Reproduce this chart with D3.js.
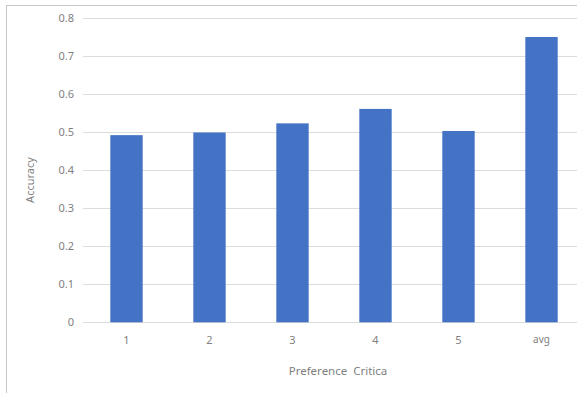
<!DOCTYPE html>
<html>
<head>
<meta charset="utf-8">
<script src="https://cdn.jsdelivr.net/npm/d3@7/dist/d3.min.js"></script>
<style>
  html, body { margin: 0; padding: 0; background: #fff; }
  svg { display: block; }
  text { font-family: "Noto Sans", "DejaVu Sans", sans-serif; fill: #7f7f7f; }
</style>
</head>
<body>
<svg id="chart" width="577" height="393"></svg>
<script>
// Accuracy per preference criterion
const categories = ["1", "2", "3", "4", "5", "avg"];
const accuracy = [0.492, 0.499, 0.523, 0.561, 0.503, 0.750];
const yTicks = [0, 0.1, 0.2, 0.3, 0.4, 0.5, 0.6, 0.7, 0.8];
const xTitle = "Preference  Critica";
const yTitle = "Accuracy";

const svg = d3.select("#chart");
const W = 577, H = 393;
const plot = { left: 85, right: 583, top: 18, bottom: 322.3 };

// chart frame (left and top edges visible)
svg.append("line").attr("x1", 6.5).attr("x2", 6.5).attr("y1", 5).attr("y2", H)
  .attr("stroke", "#c8c8c8").attr("stroke-width", 1);
svg.append("line").attr("x1", 6).attr("x2", W).attr("y1", 5.5).attr("y2", 5.5)
  .attr("stroke", "#c8c8c8").attr("stroke-width", 1);

const x = d3.scaleBand().domain(categories).range([plot.left, plot.right]).paddingInner(0.61).paddingOuter(0.305);
const y = d3.scaleLinear().domain([0, 0.8]).range([plot.bottom, plot.top]);

// horizontal gridlines
svg.append("g").selectAll("line").data(yTicks).join("line")
  .attr("x1", 83).attr("x2", W)
  .attr("y1", d => Math.round(y(d)) + 0.5).attr("y2", d => Math.round(y(d)) + 0.5)
  .attr("stroke", "#dcdcdc").attr("stroke-width", 1);

// y axis labels
const yAxis = d3.axisLeft(y).tickValues(yTicks).tickSize(0).tickPadding(0)
  .tickFormat(d => d === 0 ? "0" : d3.format(".1f")(d));
const gy = svg.append("g").attr("transform", "translate(74,0)").call(yAxis);
gy.select(".domain").remove();
gy.selectAll("text").attr("font-size", 11).style("fill", "#7f7f7f")
  .style("font-family", "'Noto Sans', 'DejaVu Sans', sans-serif");

// bars
svg.append("g").selectAll("rect").data(accuracy).join("rect")
  .attr("x", (d, i) => x(categories[i]))
  .attr("width", x.bandwidth())
  .attr("y", d => y(d))
  .attr("height", d => y(0) - y(d))
  .attr("fill", "#4472c4");

// x axis labels
const xAxis = d3.axisBottom(x).tickSize(0).tickPadding(0);
const gx = svg.append("g").attr("transform", "translate(0,336)").call(xAxis);
gx.select(".domain").remove();
gx.selectAll("text").attr("font-size", 11).style("fill", "#7f7f7f")
  .style("font-family", "'Noto Sans', 'DejaVu Sans', sans-serif")
  .filter(d => d === "avg").attr("font-size", 10);

// axis titles
svg.append("text").attr("x", 338).attr("y", 375).attr("text-anchor", "middle")
  .attr("font-size", 11.5).style("white-space", "pre").text(xTitle);
svg.append("text").attr("transform", "translate(34,180) rotate(-90)")
  .attr("text-anchor", "middle").attr("font-size", 11).text(yTitle);
</script>
</body>
</html>
